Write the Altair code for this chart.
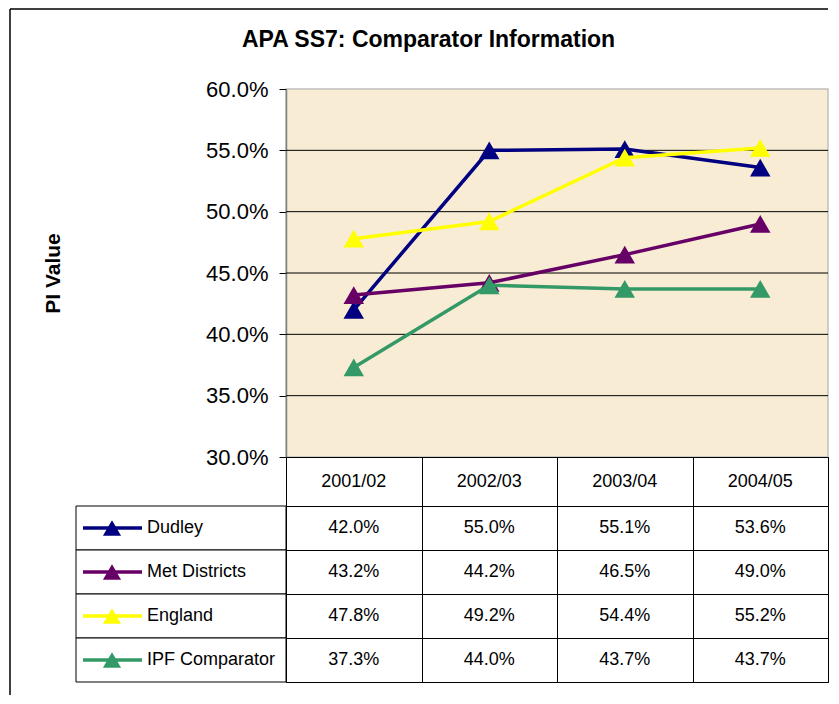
import altair as alt
import pandas as pd

years = ["2001/02", "2002/03", "2003/04", "2004/05"]
series = ["Dudley", "Met Districts", "England", "IPF Comparator"]
dudley = [42.0, 55.0, 55.1, 53.6]
met_districts = [43.2, 44.2, 46.5, 49.0]
england = [47.8, 49.2, 54.4, 55.2]
ipf_comparator = [37.3, 44.0, 43.7, 43.7]
colors = ["#000080", "#660066", "#FFFF00", "#339966"]
y_ticks = [0.30, 0.35, 0.40, 0.45, 0.50, 0.55, 0.60]
grid_vals = [0.35, 0.40, 0.45, 0.50, 0.55]

FONT = "Liberation Sans"
W_LEFT, W_PLOT, H_PLOT, H_HEAD, H_BODY = 210, 542, 368, 49, 176

all_vals = [dudley, met_districts, england, ipf_comparator]
rows = []
for s, vals in zip(series, all_vals):
    for yr, v in zip(years, vals):
        rows.append({"series": s, "year": yr, "value": v / 100.0})
df = pd.DataFrame(rows)

xband = alt.Scale(type="band", domain=years, paddingInner=0, paddingOuter=0)
yrow = alt.Scale(type="band", domain=series, paddingInner=0, paddingOuter=0)
yq = alt.Scale(domain=[0.30, 0.60], nice=False, zero=False)
cscale = alt.Scale(domain=series, range=colors)

# ---------- line plot ----------
grid = alt.Chart(pd.DataFrame({"g": grid_vals})).mark_rule(color="black", strokeWidth=1).encode(
    y=alt.Y("g:Q", scale=yq,
            axis=alt.Axis(values=y_ticks, format=".1%", title="PI Value", grid=False,
                          labelFont=FONT, labelFontSize=22, labelColor="black",
                          labelPadding=11, tickSize=7, tickColor="black",
                          domainColor="#808080", domainWidth=1.5,
                          titleFont=FONT, titleFontSize=21, titleFontWeight="bold",
                          titleColor="black", titlePadding=142))
)
layers = [grid]
for s in series:
    sd = df[df["series"] == s]
    enc = dict(
        x=alt.X("year:N", scale=xband, axis=None, bandPosition=0.5),
        y=alt.Y("value:Q", scale=yq),
        color=alt.Color("series:N", scale=cscale, legend=None),
    )
    layers.append(alt.Chart(sd).mark_line(strokeWidth=3.5).encode(**enc))
    layers.append(alt.Chart(sd).mark_point(shape="triangle-up", filled=True, size=420, opacity=1).encode(**enc))

lineplot = alt.layer(*layers).properties(
    width=W_PLOT, height=H_PLOT,
    view=alt.ViewBackground(fill="#F9ECD4", stroke="#C0C0C0", strokeWidth=1.5),
    title=alt.TitleParams("APA SS7: Comparator Information", font=FONT, fontSize=23,
                          fontWeight="bold", color="black", anchor="middle",
                          frame="bounds", offset=26, dx=-7),
)

# ---------- top-left cell: carries the chart-area frame ----------
fr = alt.Chart(pd.DataFrame({"a": [0]}))
top_left = alt.layer(
    fr.mark_rule(color="black", strokeWidth=1.5).encode(
        x=alt.value(-66), y=alt.value(-80), y2=alt.value(606)),
    fr.mark_rule(color="black", strokeWidth=1.5).encode(
        x=alt.value(-66), x2=alt.value(752), y=alt.value(-80)),
).properties(width=W_LEFT, height=H_PLOT, view=alt.ViewBackground(stroke=None))

mid_left = alt.Chart(pd.DataFrame({"a": [0]})).mark_text(text="").properties(
    width=W_LEFT, height=H_HEAD, view=alt.ViewBackground(stroke=None))

# ---------- header row ----------
header = alt.Chart(pd.DataFrame({"year": years})).mark_text(
    font=FONT, fontSize=18, color="black").encode(
    x=alt.X("year:N", scale=xband,
            axis=alt.Axis(grid=True, tickBand="extent", labels=False, ticks=False,
                          domain=False, title=None, gridColor="black", gridWidth=1, gridOpacity=1)),
    text="year:N",
).properties(width=W_PLOT, height=H_HEAD,
             view=alt.ViewBackground(fill="white", stroke="black", strokeWidth=1))

# ---------- table body ----------
body = alt.Chart(df).mark_text(font=FONT, fontSize=18, color="black").encode(
    x=alt.X("year:N", scale=xband,
            axis=alt.Axis(grid=True, tickBand="extent", labels=False, ticks=False,
                          domain=False, title=None, gridColor="black", gridWidth=1, gridOpacity=1)),
    y=alt.Y("series:N", scale=yrow,
            axis=alt.Axis(grid=True, tickBand="extent", labels=False, ticks=False,
                          domain=False, title=None, gridColor="black", gridWidth=1, gridOpacity=1)),
    text=alt.Text("value:Q", format=".1%"),
).properties(width=W_PLOT, height=H_BODY,
             view=alt.ViewBackground(fill="white", stroke="black", strokeWidth=1))

# ---------- legend column ----------
ldf = pd.DataFrame({"series": series})
lbase = alt.Chart(ldf)
ly = alt.Y("series:N", scale=yrow, axis=None)
lcol = alt.Color("series:N", scale=cscale, legend=None)
legend_col = alt.layer(
    lbase.mark_rect(fill="white", stroke="black", strokeWidth=1).encode(y=ly),
    lbase.mark_rule(strokeWidth=3.5).encode(y=ly, x=alt.value(7), x2=alt.value(66), color=lcol),
    lbase.mark_point(shape="triangle-up", filled=True, size=330, opacity=1).encode(
        y=ly, x=alt.value(36), color=lcol),
    lbase.mark_text(font=FONT, fontSize=18, color="black", align="left").encode(
        y=ly, x=alt.value(71), text="series:N"),
).properties(width=W_LEFT, height=H_BODY, view=alt.ViewBackground(stroke=None))

chart = alt.concat(
    top_left, lineplot, mid_left, header, legend_col, body,
    columns=2, spacing=0, bounds="flush",
).properties(
    padding={"left": 1, "top": 0, "right": 0, "bottom": 0},
    background="white",
).configure_view(stroke=None)

chart.save("out.html", embed_options={"renderer": "svg", "actions": False})
